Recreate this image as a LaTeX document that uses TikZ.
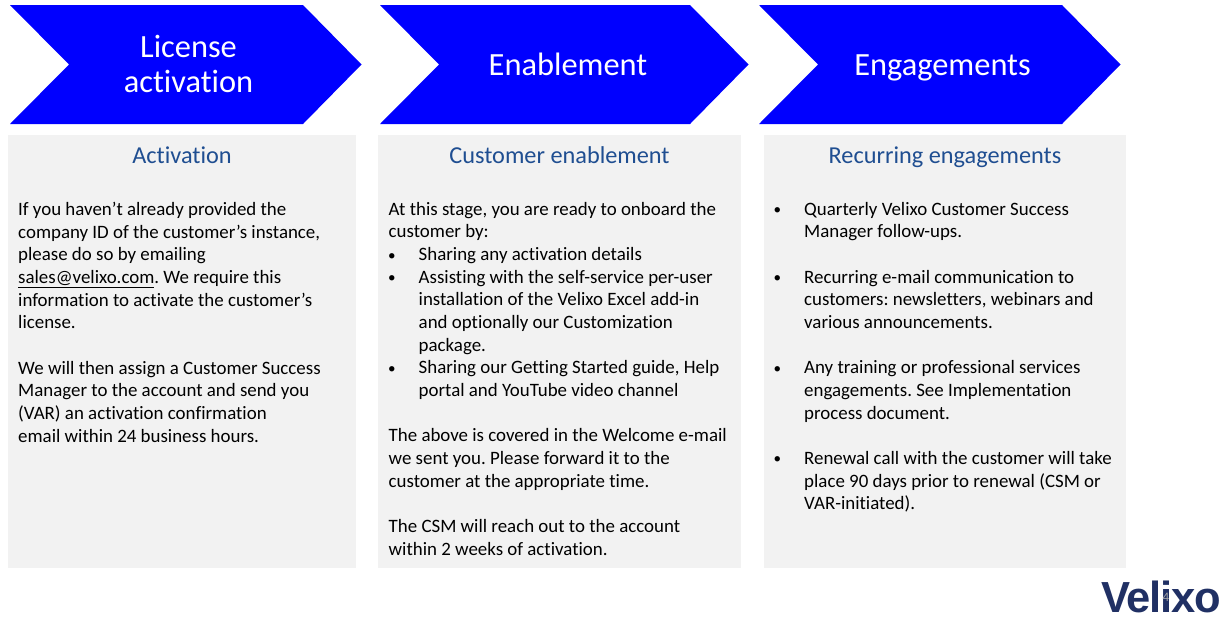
\documentclass[tikz,border=0pt]{standalone}
\usepackage{fontspec}
\setmainfont{Carlito}[Ligatures=NoCommon]
\newfontfamily\logofont{Liberation Sans}
\frenchspacing
\definecolor{arrowblue}{RGB}{0,0,255}
\definecolor{panelgray}{RGB}{242,242,242}
\definecolor{titleblue}{RGB}{31,78,145}
\definecolor{logoblue}{RGB}{32,48,100}
\newcommand{\bodyfont}{\fontsize{18.9}{22.65}\selectfont}
\newcommand{\blt}{\makebox[30pt][l]{\hspace*{-0.5pt}\raisebox{0.5pt}{\scalebox{0.8}{\textbullet}}}}
\newcommand{\ind}{\hspace*{30pt}}
\tikzset{chevron/.style={fill=arrowblue,draw=none},
	chevlabel/.style={text=white,align=center,font=\fontsize{32.4}{35}\selectfont},
	chevsingle/.style={chevlabel,anchor=base},
	panel/.style={fill=panelgray,draw=none},
	paneltitle/.style={anchor=base,text=titleblue,font=\fontsize{24.3}{28}\selectfont},
	paneltext/.style={anchor=north west,align=left,inner sep=0pt,text=black,font=\bodyfont}}

\begin{document}
\begin{tikzpicture}[x=1pt,y=-1pt]
		\useasboundingbox (0,0) rectangle (1223,619);
		% arrows along the top
		\foreach \xa/\xb/\xc/\xd in {10/69/303/361.5,380/439/690/748.5,759/818/1062/1120.5}
			\fill[chevron] (\xa,5) -- (\xc,5) -- (\xd,64.5) -- (\xc,124) -- (\xa,124) -- (\xb,64.5) -- cycle;
		\node[chevlabel] (licenselabel) at (188.5,63.5) {License\\activation};
		\node[chevsingle] (enablelabel) at (568,75) {Enablement};
		\node[chevsingle] (engagelabel) at (942.5,75) {Engagements};
		% panels
		\fill[panel] (8,135) rectangle (356,568);
		\fill[panel] (378,135) rectangle (741,568);
		\fill[panel] (764,135) rectangle (1126,568);
		\node[paneltitle] (activationtitle) at (182,163) {Activation};
		\node[paneltitle] (enabletitle) at (559.5,163) {Customer enablement};
		\node[paneltitle] (engagetitle) at (945,163) {Recurring engagements};
		\node[paneltext] (activationtext) at (18,202) {%
			If you haven’t already provided the\\
			company ID of the customer’s instance,\\
			please do so by emailing\\
			\underline{sales@velixo.com}. We require this\\
			information to activate the customer’s\\
			license.\\
			\mbox{}\\
			We will then assign a Customer Success\\
			Manager to the account and send you\\
			(VAR) an activation confirmation\\
			email within 24 business hours.};
		\node[paneltext] (enabletext) at (388.5,202) {%
			At this stage, you are ready to onboard the\\
			customer by:\\
			\blt Sharing any activation details\\
			\blt Assisting with the self-service per-user\\
			\ind installation of the Velixo Excel add-in\\
			\ind and optionally our Customization\\
			\ind package.\\
			\blt Sharing our Getting Started guide, Help\\
			\ind portal and YouTube video channel\\
			\mbox{}\\
			The above is covered in the Welcome e-mail\\
			we sent you. Please forward it to the\\
			customer at the appropriate time.\\
			\mbox{}\\
			The CSM will reach out to the account\\
			within 2 weeks of activation.};
		\node[paneltext] (engagetext) at (774,202) {%
			\blt Quarterly Velixo Customer Success\\
			\ind Manager follow-ups.\\
			\mbox{}\\
			\blt Recurring e-mail communication to\\
			\ind customers: newsletters, webinars and\\
			\ind various announcements.\\
			\mbox{}\\
			\blt Any training or professional services\\
			\ind engagements. See Implementation\\
			\ind process document.\\
			\mbox{}\\
			\blt Renewal call with the customer will take\\
			\ind place 90 days prior to renewal (CSM or\\
			\ind VAR-initiated).};
		% logo
		\node[anchor=base,inner sep=0pt,text=logoblue,font=\logofont\bfseries\fontsize{43.5}{44}\selectfont] (logo) at (1161,612.5) {\addfontfeature{LetterSpace=-3}Velixo};
		\node[inner sep=0pt,text=gray!70,font=\fontsize{13}{13}\selectfont] (pagenum) at (1166,597) {4};
	\end{tikzpicture}
\end{document}
